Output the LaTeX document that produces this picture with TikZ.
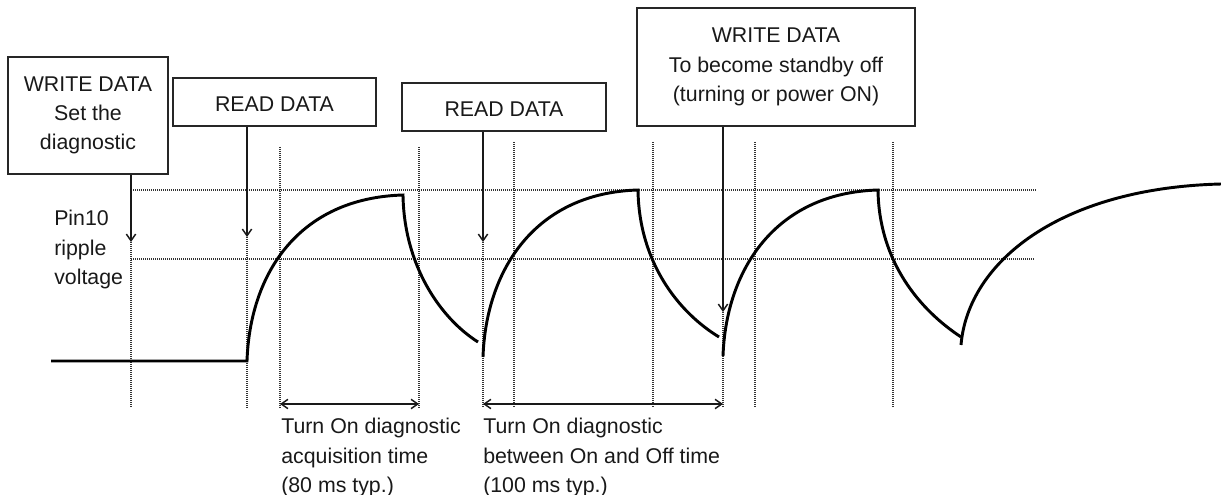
\documentclass[tikz,border=0pt]{standalone}
\usepackage{fontspec}
\setmainfont{Liberation Sans}
\usetikzlibrary{arrows.meta}
\newcommand\diagfont{\fontsize{16}{22}\selectfont}
\begin{document}
\begin{tikzpicture}[x=0.75pt,y=-0.75pt,
  box/.style={draw=black!85,line width=1.1pt,inner sep=0pt,align=center,font=\diagfont,text=black!90},
  lbl/.style={inner sep=0pt,align=left,font=\diagfont,text=black!90,anchor=north west},
  arr/.style={line width=1.1pt,black!90,-{Straight Barb[length=5pt,width=7pt]}},
  darr/.style={line width=1.1pt,black!90,{Straight Barb[length=5pt,width=7pt]}-{Straight Barb[length=5pt,width=7pt]}},
  grid/.style={black!80,line width=0.8pt,dash pattern=on 0.75pt off 0.75pt},
  wave/.style={line width=2.2pt,black,line join=miter}]
\useasboundingbox (0,0) rectangle (1221,495);

% boxes
\node[box,minimum width=120pt,minimum height=87.75pt] (box1) at (88,115.5) {WRITE DATA\\Set the\\diagnostic};
\node[box,minimum width=152.25pt,minimum height=36pt,text height=15pt,text depth=0pt] (box2) at (274.5,102) {READ DATA};
\node[box,minimum width=153pt,minimum height=36pt,text height=15pt,text depth=0pt] (box3) at (504,107) {READ DATA};
\node[box,minimum width=208.5pt,minimum height=88.5pt] (box4) at (776,67) {WRITE DATA\\To become standby off\\(turning or power ON)};

% labels
\node[lbl] (pin) at (54,210) {Pin10\\ripple\\voltage};
\node[lbl] (acq) at (281,418) {Turn On diagnostic\\acquisition time\\(80 ms typ.)};
\node[lbl] (onoff) at (483,418) {Turn On diagnostic\\between On and Off time\\(100 ms typ.)};

% grid lines
\draw[grid] (131,190) -- (1037,190);
\draw[grid] (131,259) -- (1035,259);
\draw[grid] (131,242) -- (131,408);
\draw[grid] (247,237) -- (247,408);
\draw[grid] (280,147) -- (280,408);
\draw[grid] (419,147) -- (419,408);
\draw[grid] (483,242) -- (483,408);
\draw[grid] (514,142) -- (514,408);
\draw[grid] (653,142) -- (653,408);
\draw[grid] (723,312) -- (723,408);
\draw[grid] (755,142) -- (755,408);
\draw[grid] (893,142) -- (893,408);

% arrow tips
\coordinate (t1) at (131,242);
\coordinate (t2) at (247,237);
\coordinate (t3) at (483,242);
\coordinate (t4) at (723,312);
\draw[arr] (box1.south -| t1) -- (t1);
\draw[arr] (box2.south -| t2) -- (t2);
\draw[arr] (box3.south -| t3) -- (t3);
\draw[arr] (box4.south -| t4) -- (t4);

% time spans
\coordinate (a1) at (280,404);
\coordinate (a2) at (419,404);
\coordinate (b1) at (483,404);
\coordinate (b2) at (723,404);
\draw[darr] (a1) -- (a2);
\draw[darr] (b1) -- (b2);

% waveform
\draw[wave] (51,361) -- (247,361) .. controls (250,272) and (300,198) .. (403,195)
  .. controls (404,265) and (440,318) .. (478,342);
\draw[wave] (483,357) .. controls (486,270) and (535,193) .. (638,190)
  .. controls (639,262) and (678,312) .. (719,337);
\draw[wave] (723,356) .. controls (726,270) and (775,193) .. (878,190)
  .. controls (879,262) and (920,310) .. (961,337);
\draw[wave] (961,345) .. controls (968,262) and (1060,188) .. (1221,184);
\end{tikzpicture}
\end{document}
